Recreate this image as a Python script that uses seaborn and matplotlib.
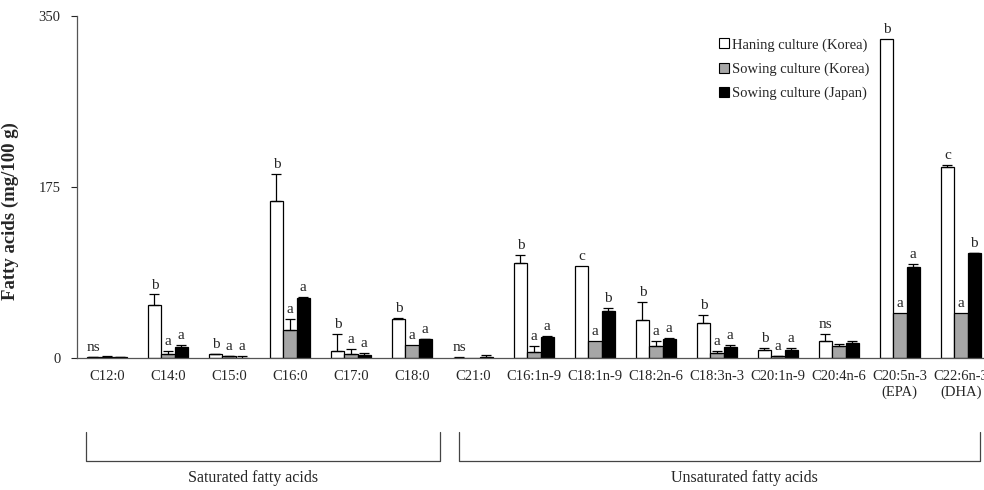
import numpy as np
import pandas as pd
import seaborn as sns
import matplotlib.pyplot as plt
from matplotlib.patches import Patch
import matplotlib.transforms as mtransforms

# fatty acid values (mg/100 g)
acids = ["C12:0", "C14:0", "C15:0", "C16:0", "C17:0", "C18:0", "C21:0",
         "C16:1n-9", "C18:1n-9", "C18:2n-6", "C18:3n-3", "C20:1n-9",
         "C20:4n-6", "C20:5n-3\n(EPA)", "C22:6n-3\n(DHA)"]
cultures = ["Haning culture (Korea)", "Sowing culture (Korea)", "Sowing culture (Japan)"]

hanging_korea = [1.0, 54, 4, 160.7, 7, 40, 0.5, 97, 94.5, 38.6, 36, 7.8, 17.7, 326.5, 195.8]
hanging_korea_err = [0.3, 11, 0.5, 28, 17.5, 0.5, 0.3, 8.4, 0, 18.7, 8, 2.1, 6.8, 0, 2.2]
sowing_korea = [1.5, 4, 2, 28.7, 4, 13.3, 0, 5.8, 17.7, 12, 4.8, 2, 12.3, 45.7, 45.7]
sowing_korea_err = [0.3, 3, 0.5, 11, 5, 0, 0, 6.2, 0, 5.7, 2.7, 0.5, 2, 0, 0]
sowing_japan = [1.0, 11.5, 0.5, 61, 3, 19, 1.5, 21.8, 48.4, 19, 11.6, 8.2, 15.7, 93.5, 107]
sowing_japan_err = [0.3, 1.5, 1.5, 1, 2, 0.5, 2, 0.7, 2.4, 1.8, 1.7, 1.8, 2, 2.4, 0.8]

letters_hk = ["ns", "b", "b", "b", "b", "b", "ns", "b", "c", "b", "b", "b", "ns", "b", "c"]
letters_sk = ["", "a", "a", "a", "a", "a", "", "a", "a", "a", "a", "a", "", "a", "a"]
letters_sj = ["", "a", "a", "a", "a", "a", "", "a", "b", "a", "a", "a", "", "a", "b"]

colors = ["white", "#a6a6a6", "black"]

data = pd.DataFrame({
    "acid": acids * 3,
    "culture": np.repeat(cultures, len(acids)),
    "value": hanging_korea + sowing_korea + sowing_japan,
})
errs = [hanging_korea_err, sowing_korea_err, sowing_japan_err]
letters = [letters_hk, letters_sk, letters_sj]

sns.set_style("white")
plt.rcParams["font.family"] = ["Liberation Serif", "DejaVu Serif"]

fig = plt.figure(figsize=(9.84, 4.9), dpi=100)
ax = fig.add_axes([77 / 984, 132 / 490, 907 / 984, 342 / 490])

sns.barplot(
    data=data,
    x="acid",
    y="value",
    hue="culture",
    palette=colors,
    edgecolor="black",
    linewidth=0.9,
    width=0.66,
    errorbar=None,
    legend=False,
    ax=ax,
)

# one-sided error bars and significance letters
for cont, err, lab in zip(ax.containers, errs, letters):
    xs = np.array([b.get_x() + b.get_width() / 2 for b in cont])
    hs = np.array([b.get_height() for b in cont])
    err = np.array(err)
    m = err > 0
    ax.errorbar(xs[m], hs[m], yerr=[np.zeros(m.sum()), err[m]], fmt="none",
                ecolor="black", elinewidth=0.9, capsize=3.5, capthick=0.9)
    for x, h, e, t in zip(xs, hs, err, lab):
        if t:
            ax.text(x, h + e + 3, t, ha="center", va="bottom", fontsize=11)

ax.set_ylim(0, 350)
ax.set_xlim(-0.49, 14.38)
ax.set_yticks([0, 175, 350])
ax.set_xlabel("")
ax.set_ylabel("Fatty acids (mg/100 g)", fontsize=13.5, fontweight="bold")
ax.yaxis.set_label_coords(-0.064, 0.43)
ax.tick_params(axis="y", length=4, width=0.8, direction="out", labelsize=10.5, left=True, pad=8)
ax.tick_params(axis="x", length=0, labelsize=10.5, pad=9)
sns.despine(ax=ax)
for s in ["left", "bottom"]:
    ax.spines[s].set_color("#555555")
    ax.spines[s].set_linewidth(0.9)

# group brackets under the axis
trans = mtransforms.blended_transform_factory(ax.transData, ax.transAxes)
for x0, x1, xt, name in [(-0.34, 5.46, 2.39, "Saturated fatty acids"),
                         (5.77, 14.31, 10.46, "Unsaturated fatty acids")]:
    ax.plot([x0, x0, x1, x1], [-0.216, -0.301, -0.301, -0.216], color="#444444",
            lw=0.9, transform=trans, clip_on=False)
    ax.text(xt, -0.35, name, ha="center", va="center", fontsize=11.5, transform=trans)

handles = [Patch(facecolor=c, edgecolor="black", linewidth=0.8) for c in colors]
fig.legend(handles, cultures, loc="upper left", bbox_to_anchor=(706 / 984, 1 - 25 / 490),
           frameon=False, fontsize=10.5, handlelength=0.7, handleheight=0.7,
           handletextpad=0.2, labelspacing=0.75)

fig.savefig("out.png", dpi=100)
